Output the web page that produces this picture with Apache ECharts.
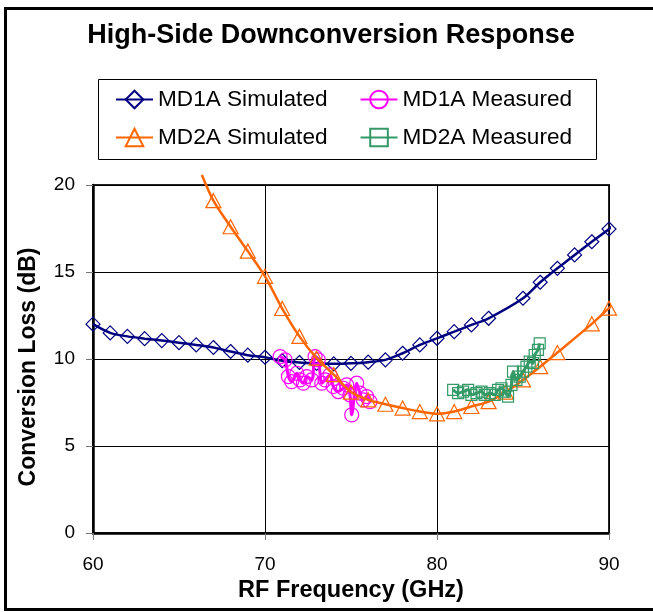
<!DOCTYPE html>
<html>
<head>
<meta charset="utf-8">
<script src="https://cdn.jsdelivr.net/npm/echarts@6/dist/echarts.min.js"></script>
<style>
  html, body { margin: 0; padding: 0; background: #fff; overflow: hidden; }
  #chart { width: 653px; height: 612px; }
</style>
</head>
<body>
<div id="chart"></div>
<script>
// ---- Data ----
const md1aSimFreq = [60, 61, 62, 63, 64, 65, 66, 67, 68, 69, 70, 71, 72, 73, 74, 75, 76, 77, 78, 79, 80, 81, 82, 83, 85, 86, 87, 88, 89, 90, 90.6];
const md1aSimLoss = [12.0, 11.5, 11.3, 11.17, 11.06, 10.94, 10.81, 10.66, 10.43, 10.22, 10.1, 9.9, 9.8, 9.75, 9.72, 9.75, 9.82, 9.95, 10.33, 10.81, 11.19, 11.57, 11.96, 12.34, 13.49, 14.41, 15.21, 15.98, 16.74, 17.47, 18.0];

const md1aMeasFreq = [70.88, 71.17, 71.36, 71.55, 71.85, 72.04, 72.23, 72.43, 72.72, 72.91, 73.1, 73.3, 73.49, 73.78, 73.97, 74.26, 74.55, 74.75, 74.94, 75.04, 75.33, 75.52, 75.72, 75.91, 76.1];
const md1aMeasLoss = [10.14, 9.95, 8.99, 8.7, 9.18, 8.8, 8.61, 8.99, 8.8, 10.14, 9.95, 8.61, 8.8, 9.09, 8.42, 8.13, 8.32, 8.51, 7.94, 6.79, 8.61, 8.04, 7.65, 7.84, 7.55];

const md2aSimFreq = [66.33, 67, 68, 69, 70, 71, 72, 73, 74, 75, 76, 77, 78, 79, 80, 81, 82, 83, 84, 85, 86, 87, 89, 90, 90.58];
const md2aSimLoss = [20.57, 19.1, 17.6, 16.2, 14.75, 12.9, 11.3, 10.05, 9.1, 8.1, 7.65, 7.4, 7.18, 6.98, 6.85, 6.98, 7.27, 7.55, 8.1, 8.8, 9.56, 10.37, 12.02, 12.92, 13.43];

const md2aMeasFreq = [80.94, 81.23, 81.52, 81.81, 82.0, 82.3, 82.59, 82.78, 83.07, 83.36, 83.55, 83.75, 83.94, 84.13, 84.33, 84.42, 84.62, 84.81, 85.0, 85.2, 85.39, 85.58, 85.68, 85.87, 85.97];
const md2aMeasLoss = [8.23, 8.04, 8.13, 8.23, 7.94, 8.04, 8.13, 7.94, 8.04, 7.94, 8.23, 8.32, 8.13, 7.84, 8.51, 9.28, 8.8, 8.99, 9.28, 9.56, 9.85, 9.76, 10.23, 10.52, 10.9];

// points that continue the curve beyond the plot edge, drawn without a marker
const md1aSimNoMarker = [90.6];
const md2aSimNoMarker = [66.33, 90.58];

const xTicks = [60, 70, 80, 90];
const yTicks = [0, 5, 10, 15, 20];

const titleText = 'High-Side Downconversion Response';
const xName = 'RF Frequency (GHz)';
const yName = 'Conversion Loss (dB)';
const seriesNames = ['MD1A Simulated', 'MD1A Measured', 'MD2A Simulated', 'MD2A Measured'];

// ---- Build ----
function pairs(fx, fy, noMarker) {
  return fx.map((f, i) => {
    const item = { value: [f, fy[i]] };
    if (noMarker && noMarker.indexOf(f) >= 0) item.symbol = 'none';
    return item;
  });
}

const FONT = '"Liberation Sans", Arial, sans-serif';
const chart = echarts.init(document.getElementById('chart'), null, { renderer: 'canvas' });

function mkSeries(name, data, color, symbol, size, lineWidth, z) {
  return {
    name, type: 'line', data, smooth: 0.3, clip: false, z,
    symbol, symbolSize: size,
    showAllSymbol: true,
    lineStyle: { color, width: lineWidth },
    itemStyle: { color: 'rgba(0,0,0,0)', borderColor: color, borderWidth: 1.2 },
    emphasis: { disabled: true },
    animation: false
  };
}

const legendText = { fontFamily: FONT, fontSize: 22.6, color: '#000' };

const option = {
  backgroundColor: '#fff',
  animation: false,
  title: {
    text: titleText, left: 326, top: 17, textAlign: 'center',
    textStyle: { fontFamily: FONT, fontWeight: 'bold', fontSize: 27, color: '#000' }
  },
  legend: [
    {
      data: [seriesNames[0], seriesNames[1]], left: 115, top: 88, padding: 0,
      itemWidth: 37, itemHeight: 22, itemGap: 32,
      textStyle: legendText
    },
    {
      data: [seriesNames[2], seriesNames[3]], left: 115, top: 126, padding: 0,
      itemWidth: 37, itemHeight: 22, itemGap: 32,
      textStyle: legendText
    }
  ],
  grid: {
    left: 93, top: 185, right: 44, bottom: 79,
    show: true, borderColor: '#222', borderWidth: 2, backgroundColor: 'transparent'
  },
  xAxis: {
    type: 'value', min: xTicks[0], max: xTicks[xTicks.length - 1], interval: 10,
    name: xName, nameLocation: 'middle', nameGap: 46,
    nameTextStyle: { fontFamily: FONT, fontWeight: 'bold', fontSize: 23.5, color: '#000' },
    axisLine: { show: true, lineStyle: { color: '#000', width: 2.5 } },
    axisTick: { show: true, length: 7, lineStyle: { color: '#777', width: 1 } },
    axisLabel: { fontFamily: FONT, fontSize: 19, color: '#000', margin: 22 },
    splitLine: { show: true, lineStyle: { color: '#000', width: 1 } }
  },
  yAxis: {
    type: 'value', min: yTicks[0], max: yTicks[yTicks.length - 1], interval: 5,
    name: yName, nameLocation: 'middle', nameGap: 53, nameRotate: 90,
    nameTextStyle: { fontFamily: FONT, fontWeight: 'bold', fontSize: 23, color: '#000', padding: [0, 16, 0, 0] },
    axisLine: { show: true, lineStyle: { color: '#000', width: 2.5 } },
    axisTick: { show: true, length: 7, lineStyle: { color: '#777', width: 1 } },
    axisLabel: { fontFamily: FONT, fontSize: 19, color: '#000', margin: 18 },
    splitLine: { show: true, lineStyle: { color: '#000', width: 1 } }
  },
  graphic: [
    {
      type: 'rect', silent: true, z: 100,
      shape: { x: 98.5, y: 79.5, width: 498, height: 80 },
      style: { fill: 'none', stroke: '#000', lineWidth: 1 }
    },
    {
      type: 'rect', silent: true, z: 100,
      shape: { x: 5.5, y: 8.5, width: 720, height: 601 },
      style: { fill: 'none', stroke: '#000', lineWidth: 3 }
    }
  ],
  series: [
    mkSeries(seriesNames[0], pairs(md1aSimFreq, md1aSimLoss, md1aSimNoMarker), '#000080', 'diamond', 14, 2.5, 2),
    mkSeries(seriesNames[1], pairs(md1aMeasFreq, md1aMeasLoss), '#FF00FF', 'circle', 14, 3, 3),
    mkSeries(seriesNames[2], pairs(md2aSimFreq, md2aSimLoss, md2aSimNoMarker), '#FF6600', 'triangle', [15, 14], 2.5, 4),
    mkSeries(seriesNames[3], pairs(md2aMeasFreq, md2aMeasLoss), '#339966', 'rect', 11, 3, 5)
  ]
};

chart.setOption(option);
</script>
</body>
</html>
